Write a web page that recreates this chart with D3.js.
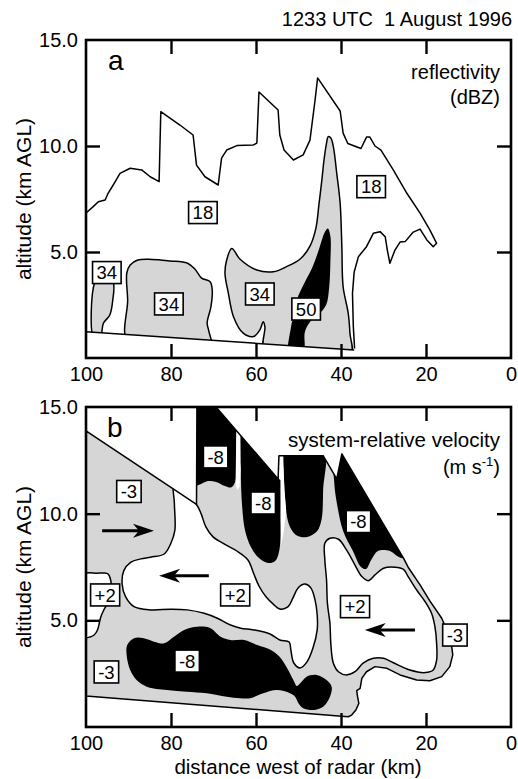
<!DOCTYPE html>
<html>
<head>
<meta charset="utf-8">
<script src="https://cdn.jsdelivr.net/npm/d3@7"></script>
<style>
  body { margin: 0; background: #fff; }
  svg { display: block; }
  text { font-family: "Liberation Sans", Arial, Helvetica, sans-serif; fill: #000; }
</style>
</head>
<body>
<svg id="fig" width="518" height="779"></svg>
<script>
// ---------- axes ----------
const xLabelVals = [100, 80, 60, 40, 20, 0];
const xTickVals = [80, 60, 40, 20];
const yLabelVals = [15, 10, 5];
const yTickVals = [10, 5];

// ---------- (a) reflectivity, contours as [km west of radar, km AGL] ----------
const groundA = [[100, 1.24], [36.9, 0.38]];

const reflOuter18 = [
  [100.0, 6.84], [98.3, 7.14], [97.1, 7.37], [95.5, 7.45], [94.8, 7.77], [93.6, 8.16],
  [92.0, 8.71], [89.6, 8.95], [86.9, 8.87], [84.9, 8.55], [82.8, 8.32], [82.4, 11.62],
  [77.9, 10.99], [74.8, 10.52], [74.0, 9.10], [72.0, 8.55], [68.9, 8.16], [68.1, 9.43],
  [66.9, 9.81], [64.5, 10.02], [60.6, 10.05], [59.8, 10.14], [59.3, 12.55], [54.8, 11.70],
  [54.4, 10.52], [53.4, 9.81], [51.2, 9.34], [48.9, 9.58], [47.3, 10.28], [46.1, 12.17],
  [45.5, 13.21], [40.2, 11.65], [39.5, 10.61], [38.4, 10.12], [35.3, 9.88], [34.0, 10.42],
  [33.2, 10.42], [32.0, 10.0], [30.6, 9.81], [27.7, 8.87], [24.5, 7.77], [21.4, 6.83],
  [19.1, 6.04], [17.5, 5.41], [18.3, 5.25], [19.8, 5.57], [21.4, 6.08], [23.0, 5.94],
  [24.9, 5.49], [26.1, 5.47], [27.3, 5.09], [28.5, 4.47], [29.1, 5.09], [29.6, 5.72],
  [30.8, 5.96], [32.4, 5.88], [34.0, 5.25], [35.9, 4.78], [36.9, 4.06], [37.3, 3.05],
  [37.1, 1.48], [36.8, 0.45]
];

const refl34West = [
  [97.9, 3.6], [98.1, 0.9], [96.7, 0.9], [95.9, 1.64], [94.4, 2.03], [93.7, 2.74],
  [93.6, 3.6], [95.8, 4.1]
];

const refl34Mid = [
  [90.0, 0.7], [90.2, 2.74], [90.4, 4.01], [89.6, 4.39], [87.8, 4.62], [84.5, 4.65],
  [80.2, 4.58], [76.2, 4.48], [74.4, 4.20], [72.8, 3.77], [70.8, 3.60], [70.3, 3.21],
  [70.6, 2.42], [71.5, 1.65], [71.1, 1.27], [70.7, 0.5]
];

const refl34East = [
  [57.9, 0.3], [57.9, 1.46], [58.3, 1.71], [59.1, 1.32], [60.6, 1.01], [63.0, 1.17],
  [65.3, 1.95], [66.5, 3.05], [67.3, 4.0], [66.9, 4.62], [65.7, 5.17], [63.8, 4.67],
  [59.8, 4.15], [55.9, 4.07], [52.8, 4.31], [49.6, 4.67], [47.3, 5.28], [45.9, 6.13],
  [45.2, 7.22], [44.5, 8.40], [44.0, 9.34], [43.4, 10.14], [43.0, 10.44], [42.4, 10.38],
  [41.8, 9.97], [41.0, 8.71], [40.2, 7.30], [39.8, 5.25], [39.5, 3.36], [38.3, 2.11],
  [37.9, 1.17], [37.8, 0.1]
];

const refl50 = [
  [52.2, 0.2], [51.8, 1.42], [51.3, 1.89], [50.4, 2.74], [48.5, 3.58], [46.8, 4.25],
  [45.4, 5.0], [44.5, 5.57], [43.8, 5.94], [43.1, 6.11], [42.5, 5.75], [42.5, 4.53],
  [42.8, 3.30], [43.5, 2.50], [45.4, 2.03], [47.3, 1.70], [48.5, 1.23], [48.9, 0.2]
];

// [text, km, altitude]
const reflLabels = [
  ["18", 72.5, 6.86], ["18", 32.9, 8.08], ["34", 95.1, 4.03],
  ["34", 80.5, 2.55], ["34", 59.1, 3.02], ["50", 48.2, 2.31]
];

// ---------- (b) system-relative velocity ----------
// outline of the sampled area (lowest beam, upper scan limits, outer contour)
const velEnvelope = [
  [100, 13.88], [74.0, 10.43], [73.9, 15.0], [69.4, 15.0], [54.8, 11.63], [54.6, 12.72],
  [44.2, 12.72], [41.0, 11.63], [39.8, 12.80], [25.3, 7.92], [24.2, 7.49], [21.4, 6.66],
  [19.1, 5.91], [16.3, 5.10], [14.8, 4.39], [14.0, 3.84], [13.7, 3.38], [14.4, 2.83],
  [16.3, 2.36], [19.1, 2.17], [22.2, 2.20], [26.1, 2.44], [29.2, 2.75], [32.0, 2.83],
  [34.0, 2.59], [35.1, 2.28], [35.5, 1.81], [36.3, 1.70], [36.1, 1.42], [35.8, 1.11],
  [36.5, 0.80], [37.5, 0.56], [38.3, 0.48], [100, 1.45]
];

const velPlus2West = [
  [101, 7.13], [97.3, 7.21], [95.8, 7.22], [94.8, 7.17], [94.2, 6.89], [94.1, 6.42],
  [94.8, 5.86], [95.8, 5.49], [96.5, 5.17], [97.3, 4.55], [98.1, 4.31], [98.9, 4.23],
  [101, 4.21]
];

const velPlus2Mid = [
  [79.3, 11.5], [74.0, 10.43], [72.9, 9.99], [71.8, 9.38], [70.1, 8.91], [67.5, 8.58],
  [64.5, 8.25], [61.9, 7.83], [60.5, 7.17], [59.3, 6.61], [57.6, 6.09], [56.0, 5.77],
  [54.4, 5.53], [52.5, 5.63], [51.3, 6.05], [50.1, 6.52], [48.5, 6.70], [47.1, 6.52],
  [46.1, 5.95], [45.6, 5.25], [45.6, 4.55], [46.6, 3.70], [48.0, 3.05], [49.6, 2.77],
  [51.1, 3.00], [51.8, 3.61], [52.2, 3.98], [54.4, 4.08], [56.7, 4.36], [60.5, 4.55],
  [63.6, 4.63], [66.0, 4.78], [69.1, 5.10], [72.2, 5.33], [76.2, 5.49], [80.1, 5.52],
  [84.8, 5.49], [88.7, 5.64], [90.7, 6.11], [91.5, 6.70], [91.1, 7.33], [89.5, 7.72],
  [87.1, 7.88], [84.8, 7.96], [81.6, 8.11], [80.1, 8.58], [79.1, 9.20], [79.2, 10.45]
];

const velPlus2East = [
  [43.8, 8.61], [42.6, 8.85], [40.6, 8.80], [38.7, 8.30], [36.7, 7.59], [35.1, 7.05],
  [33.6, 6.86], [32.0, 7.13], [30.0, 7.44], [27.3, 7.49], [25.3, 7.39], [24.2, 7.05],
  [22.2, 6.42], [20.2, 5.87], [18.7, 5.33], [17.9, 4.70], [17.5, 3.92], [17.5, 3.14],
  [18.3, 2.67], [20.2, 2.55], [23.8, 2.67], [27.7, 3.01], [30.0, 3.22], [32.4, 3.22],
  [34.8, 2.99], [36.7, 2.59], [38.7, 2.44], [40.6, 2.59], [41.8, 2.99], [42.4, 3.92],
  [42.6, 4.86], [43.2, 5.80], [43.4, 6.89], [43.8, 7.83]
];

const velMinus8Upper1 = [
  [74.6, 15.33], [64.5, 15.33], [64.6, 13.69], [64.7, 12.05], [64.9, 11.49], [65.9, 11.23],
  [67.3, 11.30], [69.4, 11.49], [71.3, 11.53], [73.4, 11.35], [74.6, 11.30]
];
const velMinus8Upper2 = [
  [63.8, 14.39], [54.1, 14.39], [54.2, 11.58], [54.2, 9.94], [54.5, 8.30], [55.5, 7.78],
  [57.2, 7.69], [59.3, 7.92], [61.2, 8.44], [62.6, 9.24], [63.3, 10.45], [63.6, 12.05]
];
const velMinus8Upper3 = [
  [53.6, 13.2], [44.2, 13.2], [44.2, 11.11], [44.6, 9.70], [45.6, 9.19], [48.0, 8.91],
  [50.4, 8.98], [52.0, 9.38], [52.8, 9.99], [53.3, 11.11], [53.5, 12.05]
];
const velMinus8Upper4 = [
  [41.6, 13.45], [39.1, 13.45], [23.3, 8.30], [25.3, 7.92], [26.8, 8.02], [28.5, 8.25],
  [31.3, 8.25], [32.9, 7.83], [34.1, 7.41], [35.3, 7.50], [37.2, 8.25], [39.5, 9.19],
  [40.9, 10.41], [41.6, 11.49]
];
const velMinus8Lower = [
  [90.3, 3.84], [88.7, 4.16], [86.4, 4.16], [84.0, 4.0], [81.6, 3.92], [79.3, 4.23],
  [76.9, 4.55], [73.8, 4.70], [70.7, 4.63], [68.3, 4.23], [66.0, 4.08], [62.8, 4.08],
  [59.7, 3.84], [56.5, 3.61], [54.4, 3.28], [52.7, 2.77], [51.2, 2.20], [50.4, 1.92],
  [49.6, 2.05], [48.1, 2.36], [45.7, 2.44], [43.4, 2.20], [42.2, 1.89], [42.6, 1.42],
  [44.2, 0.95], [46.5, 0.80], [48.9, 0.88], [50.0, 1.11], [50.8, 1.42], [52.0, 1.58],
  [55.1, 1.73], [58.3, 1.58], [61.4, 1.35], [63.8, 1.35], [66.9, 1.42], [71.6, 1.58],
  [76.3, 1.65], [81.0, 1.73], [85.7, 1.89], [88.1, 2.20], [89.6, 2.67], [90.4, 3.30]
];

// narrow clear seams between the upper -8 cores
const velGap12 = [[64.6, 14.4], [63.7, 14.4], [63.6, 12.05], [63.9, 11.25], [64.4, 11.11], [64.8, 11.39]];
const velGap23 = [[54.6, 13.0], [53.6, 13.0], [53.5, 12.05], [53.3, 11.11], [52.9, 10.17], [53.4, 9.24], [54.1, 8.53], [54.2, 9.94], [54.2, 11.58], [54.6, 11.63]];

const velLabels = [
  ["-3", 89.9, 11.04], ["-8", 69.5, 12.66], ["-8", 58.3, 10.50], ["-8", 35.9, 9.63],
  ["+2", 95.5, 6.19], ["+2", 64.9, 6.19], ["+2", 36.7, 5.64], ["-3", 13.2, 4.31],
  ["-8", 76.2, 3.09], ["-3", 95.2, 2.58]
];

// flow arrows: [from km, to km, altitude]
const velArrows = [[96.2, 84.0, 9.20], [71.1, 82.8, 7.09], [22.6, 34.4, 4.55]];

// ---------- scales ----------
const x = d3.scaleLinear().domain([100, 0]).range([86, 511]);
const yA = d3.scaleLinear().domain([0, 15]).range([358, 40]);
const yB = d3.scaleLinear().domain([0, 15]).range([727, 407]);

const STIPPLE = "#d6d6d6";
const svg = d3.select("#fig");
const defs = svg.append("defs");

function gens(y) {
  return {
    smooth: d3.line().x(d => x(d[0])).y(d => y(d[1])).curve(d3.curveCatmullRomClosed.alpha(0.5)),
    open: d3.line().x(d => x(d[0])).y(d => y(d[1])),
    closed: d3.line().x(d => x(d[0])).y(d => y(d[1])).curve(d3.curveLinearClosed)
  };
}
const gA = gens(yA), gB = gens(yB);

// clip for panel a: everything above the lowest beam
const groundFit = d3.scaleLinear().domain([groundA[0][0], groundA[1][0]]).range([groundA[0][1], groundA[1][1]]);
defs.append("clipPath").attr("id", "clipA").append("path")
  .attr("d", gA.closed([[100, groundFit(100)], [0, groundFit(0)], [0, 15], [100, 15]]));
defs.append("clipPath").attr("id", "clipB").append("path")
  .attr("d", gB.closed(velEnvelope));

function boxLabel(g, y, [t, km, alt]) {
  const grp = g.append("g").attr("transform", `translate(${x(km)},${y(alt)})`);
  const txt = grp.append("text").text(t).attr("text-anchor", "middle")
    .attr("dy", "0.36em").attr("font-size", 18.5);
  const w = txt.node().getComputedTextLength() + 8, h = 22;
  grp.insert("rect", "text").attr("x", -w / 2).attr("y", -h / 2).attr("width", w).attr("height", h)
    .attr("fill", "#fff").attr("stroke", "#000").attr("stroke-width", 1.6);
}

function frame(top, bottom, y) {
  const g = svg.append("g");
  g.append("g").attr("transform", `translate(0,${bottom})`)
    .call(d3.axisBottom(x).tickValues(xLabelVals).tickSize(0).tickPadding(9).tickFormat(d3.format("d")));
  g.append("g").attr("transform", `translate(0,${bottom})`)
    .call(d3.axisBottom(x).tickValues(xTickVals).tickSizeInner(-14).tickSizeOuter(0).tickFormat(""));
  g.append("g").attr("transform", `translate(0,${top})`)
    .call(d3.axisTop(x).tickValues(xTickVals).tickSizeInner(-14).tickSizeOuter(0).tickFormat(""));
  g.append("g").attr("transform", `translate(86,0)`)
    .call(d3.axisLeft(y).tickValues(yLabelVals).tickSize(0).tickPadding(8).tickFormat(d3.format(".1f")));
  g.append("g").attr("transform", `translate(86,0)`)
    .call(d3.axisLeft(y).tickValues(yTickVals).tickSizeInner(-14).tickSizeOuter(0).tickFormat(""));
  g.append("g").attr("transform", `translate(511,0)`)
    .call(d3.axisRight(y).tickValues(yTickVals).tickSizeInner(-14).tickSizeOuter(0).tickFormat(""));
  g.selectAll(".domain").remove();
  g.selectAll(".tick line").attr("stroke", "#000").attr("stroke-width", 2.4);
  g.selectAll(".tick text").attr("font-size", 20).attr("font-family", null).attr("fill", "#000");
  g.selectAll("g").attr("font-family", null).attr("font-size", null);
  g.append("rect").attr("x", 86).attr("y", top).attr("width", 511 - 86).attr("height", bottom - top)
    .attr("fill", "none").attr("stroke", "#000").attr("stroke-width", 2.6);
}

// ================= panel a =================
const pa = svg.append("g");
const clipA = pa.append("g").attr("clip-path", "url(#clipA)");
[refl34West, refl34Mid, refl34East].forEach(r =>
  clipA.append("path").attr("d", gA.smooth(r)).attr("fill", STIPPLE)
    .attr("stroke", "#000").attr("stroke-width", 1.5));
clipA.append("path").attr("d", gA.smooth(refl50)).attr("fill", "#000");
pa.append("path").attr("d", gA.open(reflOuter18)).attr("fill", "none")
  .attr("stroke", "#000").attr("stroke-width", 1.5).attr("stroke-linejoin", "round");
pa.append("path").attr("d", gA.open(groundA)).attr("fill", "none")
  .attr("stroke", "#000").attr("stroke-width", 1.5);
reflLabels.forEach(l => boxLabel(pa, yA, l));
frame(40, 358, yA);

// ================= panel b =================
const pb = svg.append("g");
pb.append("path").attr("d", gB.closed(velEnvelope)).attr("fill", STIPPLE);
const clipB = pb.append("g").attr("clip-path", "url(#clipB)");
[velPlus2West, velPlus2Mid, velPlus2East].forEach(r =>
  clipB.append("path").attr("d", gB.smooth(r)).attr("fill", "#fff")
    .attr("stroke", "#000").attr("stroke-width", 1.5));
[velMinus8Upper1, velMinus8Upper2, velMinus8Upper3, velMinus8Upper4, velMinus8Lower].forEach(r =>
  clipB.append("path").attr("d", gB.smooth(r)).attr("fill", "#000"));
[velGap12, velGap23].forEach(r =>
  clipB.append("path").attr("d", gB.closed(r)).attr("fill", "#fff"));
pb.append("path").attr("d", gB.closed(velEnvelope)).attr("fill", "none")
  .attr("stroke", "#000").attr("stroke-width", 1.5).attr("stroke-linejoin", "round");

velArrows.forEach(([k0, k1, alt]) => {
  const X0 = x(k0), X1 = x(k1), Y = yB(alt), s = Math.sign(X1 - X0);
  pb.append("line").attr("x1", X0).attr("x2", X1 - s * 12).attr("y1", Y).attr("y2", Y)
    .attr("stroke", "#000").attr("stroke-width", 3);
  pb.append("path")
    .attr("d", `M${X1},${Y} L${X1 - s * 21},${Y - 7} L${X1 - s * 15},${Y} L${X1 - s * 21},${Y + 7} Z`)
    .attr("fill", "#000");
});
velLabels.forEach(l => boxLabel(pb, yB, l));
frame(407, 727, yB);

// ================= text =================
svg.append("text").attr("x", 512).attr("y", 26).attr("text-anchor", "end")
  .attr("font-size", 20).style("white-space", "pre").text("1233 UTC  1 August 1996");

svg.append("text").attr("x", 108).attr("y", 70).attr("font-size", 28).text("a");
svg.append("text").attr("x", 107).attr("y", 437).attr("font-size", 28).text("b");

svg.append("text").attr("x", 500).attr("y", 79).attr("text-anchor", "end").attr("font-size", 20).text("reflectivity");
svg.append("text").attr("x", 500).attr("y", 104).attr("text-anchor", "end").attr("font-size", 20).text("(dBZ)");

svg.append("text").attr("x", 500).attr("y", 447).attr("text-anchor", "end").attr("font-size", 20.5).text("system-relative velocity");
const unit = svg.append("text").attr("x", 500).attr("y", 474).attr("text-anchor", "end").attr("font-size", 20);
unit.append("tspan").text("(m s");
unit.append("tspan").attr("font-size", 13).attr("dy", -8).text("-1");
unit.append("tspan").attr("dy", 8).text(")");

[199, 567].forEach(cy =>
  svg.append("text").attr("transform", `translate(31,${cy}) rotate(-90)`)
    .attr("text-anchor", "middle").attr("font-size", 21).text("altitude (km AGL)"));

svg.append("text").attr("x", 298).attr("y", 774).attr("text-anchor", "middle")
  .attr("font-size", 20.5).text("distance west of radar (km)");
</script>
</body>
</html>
